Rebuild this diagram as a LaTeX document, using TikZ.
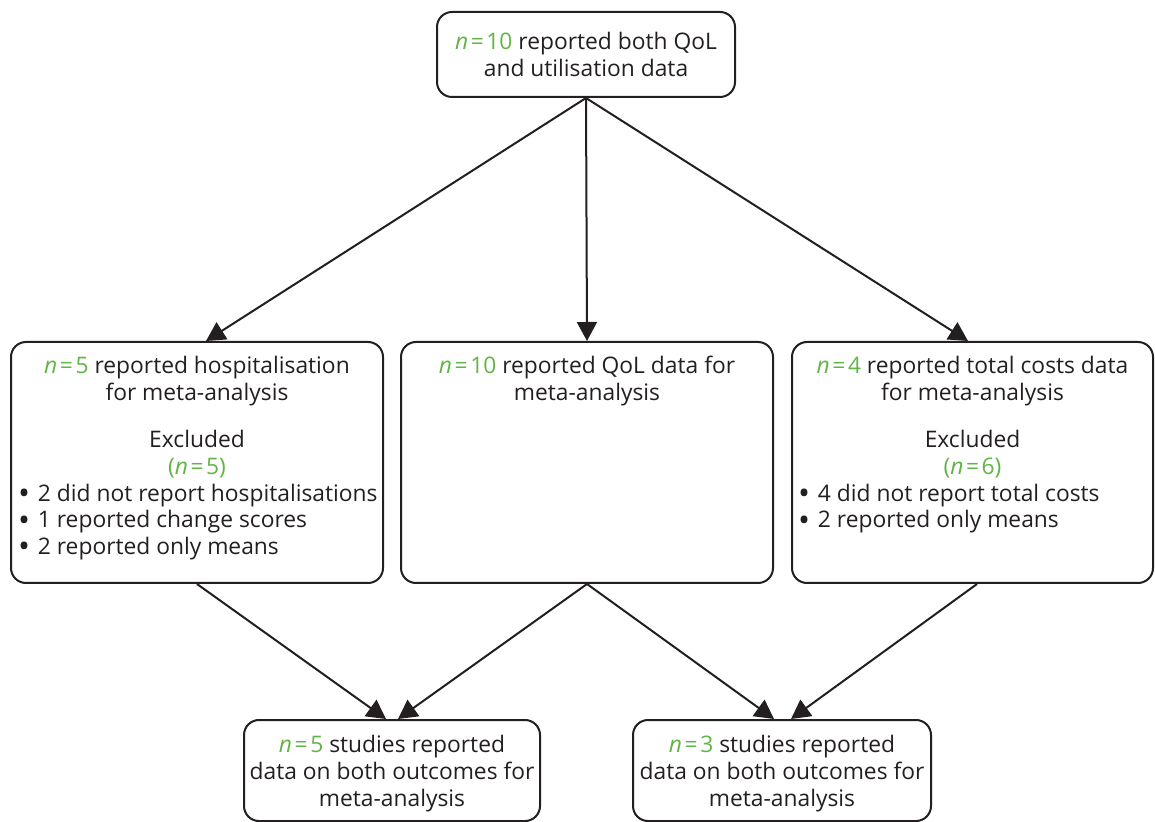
\documentclass[tikz,border=0pt]{standalone}
\usepackage{fontspec}
\setmainfont{Open Sans}
\usetikzlibrary{arrows.meta}
\definecolor{ink}{RGB}{35,31,32}
\definecolor{ngreen}{RGB}{98,180,70}
% green "n = value" marker
\newcommand{\nval}[1]{{\color{ngreen}\textit{n}\kern1.3pt=\kern1.3pt#1}}
% list bullet, a little heavier than the text bullet
\newcommand{\bul}{\smash{\raisebox{-1.7pt}{\scalebox{1.4}{\textbullet}}}\kern1pt\ }
% top-aligned text block inside a fixed-size box
\newcommand{\boxtext}[4]{\parbox[c][#2][t]{#1}{\centering\vspace*{#3}\strut #4}}
\begin{document}
\begin{tikzpicture}[x=0.5pt,y=-0.5pt,
  box/.style={draw=ink, line width=1pt, rounded corners=7.5pt, inner sep=0pt,
              anchor=north west, text=ink,
              font=\fontsize{11.4}{13.35}\selectfont},
  arr/.style={draw=ink, line width=1pt, -{Triangle[length=9.5pt,width=10pt]}}]
\useasboundingbox (0,0) rectangle (1155,822);

% source box
\node[box, anchor=center, minimum width=149pt, minimum height=42.5pt, align=center]
  (T) at (586,54.5) {\nval{10} reported both QoL\\and utilisation data};

% three outcome boxes
\node[box] (L) at (10,341) {\boxtext{186pt}{120.5pt}{6.65pt}{%
  \nval{5} reported hospitalisation\\for meta-analysis\par
  \vspace{10.15pt}Excluded\\{\color{ngreen}(\textit{n}\kern1.3pt=\kern1.3pt5)}\par
  \raggedright\leftskip=3.5pt
  \bul 2 did not report hospitalisations\\
  \bul 1 reported change scores\\
  \bul 2 reported only means\par}};

\node[box] (M) at (400,341) {\boxtext{186pt}{120.5pt}{6.65pt}{%
  \nval{10} reported QoL data for\\meta-analysis\par}};

\node[box] (R) at (791,341) {\boxtext{180.5pt}{120.5pt}{6.65pt}{%
  \nval{4} reported total costs data\\for meta-analysis\par
  \vspace{10.15pt}Excluded\\{\color{ngreen}(\textit{n}\kern1.3pt=\kern1.3pt6)}\par
  \raggedright\leftskip=3pt
  \bul 4 did not report total costs\\
  \bul 2 reported only means\par}};

% combined outcome boxes
\node[box] (B1) at (243,719) {\boxtext{148pt}{50.5pt}{7.15pt}{%
  \nval{5} studies reported\\data on both outcomes for\\meta-analysis\par}};
\node[box] (B2) at (632,719) {\boxtext{149pt}{50.5pt}{7.15pt}{%
  \nval{3} studies reported\\data on both outcomes for\\meta-analysis\par}};

% connectors
\draw[arr] (T.south) -- ([xshift=4.5pt]L.north);
\draw[arr] (T.south) -- (M.north);
\draw[arr] (T.south) -- ([xshift=-2.25pt]R.north);
\draw[arr] (L.south) -- ([xshift=-3pt]B1.north);
\draw[arr] (M.south) -- ([xshift=3pt]B1.north);
\draw[arr] (M.south) -- ([xshift=-4pt]B2.north);
\draw[arr] ([xshift=2.25pt]R.south) -- ([xshift=4.5pt]B2.north);
\end{tikzpicture}
\end{document}
